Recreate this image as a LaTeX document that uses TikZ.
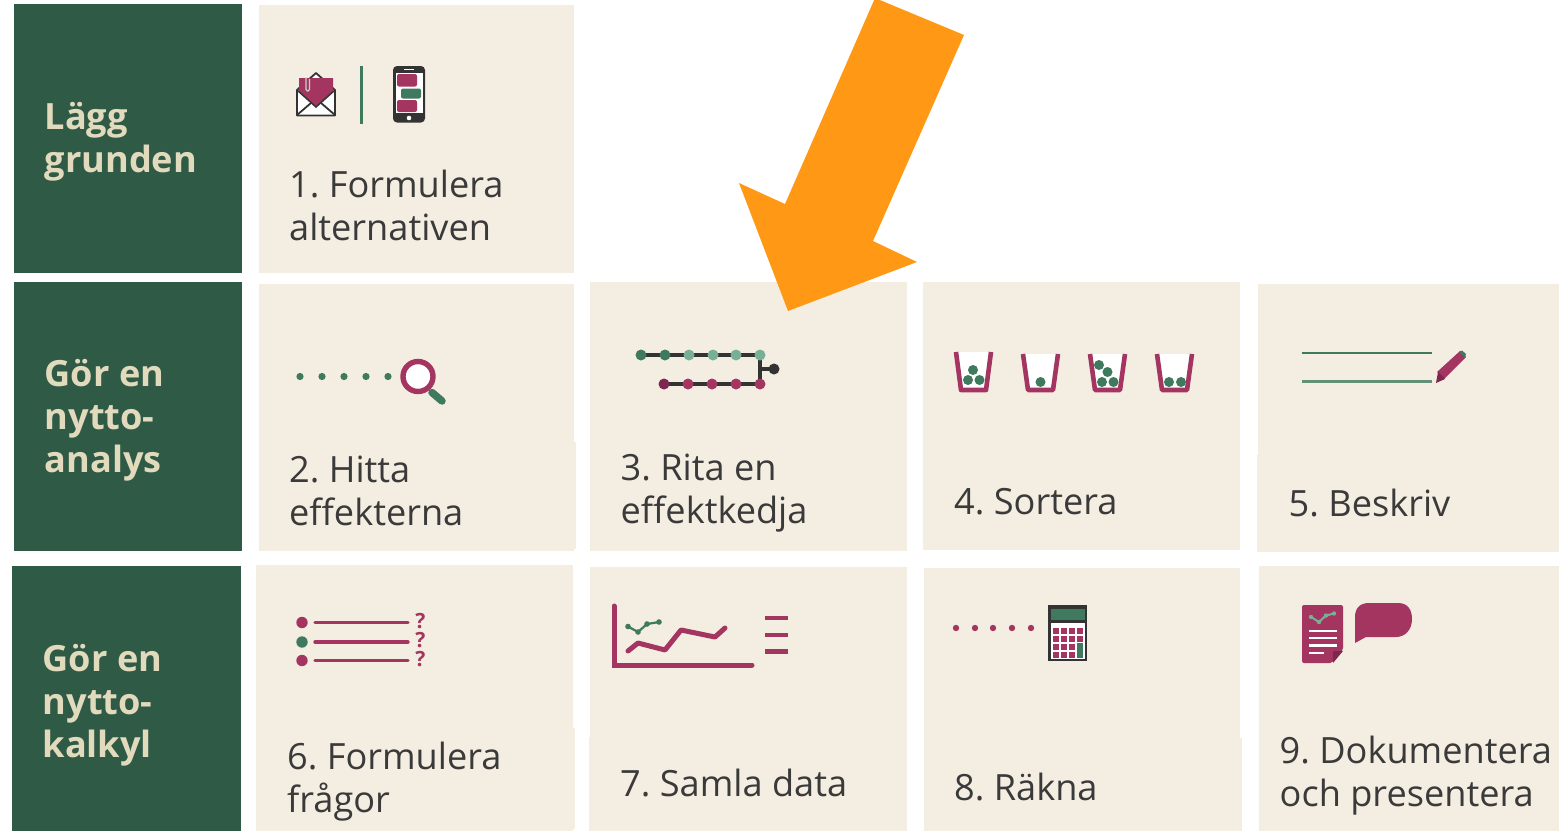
\documentclass[tikz,border=0pt]{standalone}
\usepackage{fontspec}
\setmainfont{Open Sans}
\frenchspacing
\definecolor{dkgreen}{HTML}{2F5A46}
\definecolor{cream}{HTML}{F4EEE2}
\definecolor{head}{HTML}{E2DABD}
\definecolor{txt}{HTML}{3A3A3A}
\definecolor{plum}{HTML}{A33560}
\definecolor{dplum}{HTML}{7C2650}
\definecolor{leaf}{HTML}{3F7A5E}
\definecolor{mint}{HTML}{78B096}
\definecolor{ink}{HTML}{333333}
\definecolor{orange}{HTML}{FF9815}
\tikzset{
 panel/.style={fill=cream,draw=none},
 band/.style={fill=dkgreen,draw=none},
 lab/.style={anchor=base west,inner sep=0pt,align=left,text=txt,font=\frenchspacing\fontsize{36.15}{43}\selectfont},
 headlab/.style={anchor=base west,inner sep=0pt,align=left,text=head,font=\fontsize{36.15}{43}\selectfont\bfseries},
 dot/.style={circle,fill=#1,draw=none,inner sep=0pt,minimum size=11pt},
 chainline/.style={draw=ink,line width=3.6pt},
 plumline/.style={draw=plum,line width=3.4pt,line cap=round},
 key/.style={fill=plum,draw=none},
 qmark/.style={anchor=center,inner sep=0pt,text=plum,font=\fontsize{21}{21}\selectfont\bfseries},
}
\begin{document}
\begin{tikzpicture}[x=1pt,y=-1pt]
\useasboundingbox (0,0) rectangle (1559,831);
% bands
\fill[band] (14,4) rectangle (242,273);
\fill[band] (14,282) rectangle (242,551);
\fill[band] (12,566) rectangle (241,831);
% panels
\fill[panel] (259,5) rectangle (574,273);
\fill[panel] (259,284) rectangle (574,551);
\fill[panel] (259,442) rectangle (576,549);
\fill[panel] (590,282) rectangle (907,551);
\fill[panel] (923,282) rectangle (1240,550);
\fill[panel] (1258,284) rectangle (1559,552);
\fill[panel] (1257,455) rectangle (1559,552);
\fill[panel] (256,565) rectangle (573,831);
\fill[panel] (256,728) rectangle (575,829);
\fill[panel] (590,567) rectangle (907,831);
\fill[panel] (589,737) rectangle (907,831);
\fill[panel] (924,568) rectangle (1240,831);
\fill[panel] (924,738) rectangle (1242,831);
\fill[panel] (1259,566) rectangle (1559,831);
% headings
\node[headlab] (h1) at (44.5,172) {Lägg\\grunden};
\node[headlab] (h2) at (44.5,472) {Gör en\\nytto-\\analys};
\node[headlab] (h3) at (42.5,757) {Gör en\\nytto-\\kalkyl};
% labels
\node[lab] (t1) at (289,240) {1. Formulera\\alternativen};
\node[lab] (t2) at (289,525) {2. Hitta\\effekterna};
\node[lab] (t3) at (620.5,523) {3. Rita en\\effektkedja};
\node[lab] (t4) at (954,514) {4. Sortera};
\node[lab] (t5) at (1288.5,516) {5. Beskriv};
\node[lab] (t6) at (287,812) {6. Formulera\\frågor};
\node[lab] (t7) at (620,796) {7. Samla data};
\node[lab] (t8) at (954,800) {8. Räkna};
\node[lab] (t9) at (1279.5,806) {9. Dokumentera\\och presentera};
% --- icon 1: envelope
\draw[draw=ink,line width=1.8pt,fill=white,line join=round] (297,90) -- (316,73) -- (335,90) -- (335,115.5) -- (297,115.5) -- cycle;
\fill[plum] (299,78) -- (333,78) -- (333,92) -- (316,107) -- (299,92) -- cycle;
\draw[draw=ink,line width=1.8pt,line cap=round] (297,115) -- (311,103);
\draw[draw=ink,line width=1.8pt,line cap=round] (335,115) -- (321,103);
\draw[draw=ink,line width=1.5pt] (297,90) -- (316,107) -- (335,90);
\draw[draw=mint!50!white,line width=1.1pt,rounded corners=1.5pt] (306,77) -- (306,91) -- (309.5,91) -- (309.5,79);
\draw[draw=leaf,line width=2.2pt] (361.5,66) -- (361.5,124);
% phone
\fill[ink,rounded corners=4pt] (393,66) rectangle (425,122.5);
\fill[white] (395.5,72.5) rectangle (422.5,113);
\fill[white] (404,68.5) rectangle (414,69.8);
\fill[white] (409,118) circle (2.3);
\fill[plum,rounded corners=2pt] (397,74) rectangle (417,86.5);
\fill[leaf,rounded corners=2pt] (401,88.5) rectangle (421,98.5);
\fill[plum,rounded corners=2pt] (397,100) rectangle (417,112);
% --- icon 2
\foreach \xx in {300,322,344,366,388}{\fill[leaf] (\xx,376.5) circle (3.6);}
\draw[draw=leaf,line width=7.5pt,line cap=round] (432,392.5) -- (442,401);
\draw[draw=plum,line width=5.4pt,fill=white] (418,376.5) circle (15);
% --- icon 3
\draw[chainline] (641,355) -- (760,355) -- (760,384) -- (664,384);
\draw[chainline] (760,369) -- (774,369);
\node[dot=leaf] (c1) at (641,355) {};
\node[dot=leaf] (c2) at (665,355) {};
\node[dot=mint] (c3) at (689,355) {};
\node[dot=mint] (c4) at (713,355) {};
\node[dot=mint] (c5) at (736,355) {};
\node[dot=mint] (c6) at (760,355) {};
\node[dot=ink] (c7) at (774,369) {};
\node[dot=dplum] (d1) at (664,384) {};
\node[dot=plum] (d2) at (688,384) {};
\node[dot=plum] (d3) at (712,384) {};
\node[dot=plum] (d4) at (736,384) {};
\node[dot=plum] (d5) at (760,384) {};
% --- icon 4
\newcommand{\mycup}[2]{\fill[white] (#1+1,#2) -- (#1+36,#2) -- (#1+31,390) -- (#1+6,390) -- cycle;
 \draw[draw=plum,line width=4.6pt,line join=round,line cap=butt] (#1+1,#2) -- (#1+6,390) -- (#1+31,390) -- (#1+36,#2);}
\mycup{955}{352}
\mycup{1022}{354}
\mycup{1089}{354}
\mycup{1156}{354}
\fill[leaf] (973,370) circle (5);
\fill[leaf] (968,380) circle (5);
\fill[leaf] (979.5,380) circle (5);
\fill[leaf] (1040.5,382) circle (5);
\fill[leaf] (1099,365) circle (5);
\fill[leaf] (1107.5,372) circle (5);
\fill[leaf] (1102,382) circle (5);
\fill[leaf] (1113.5,382) circle (5);
\fill[leaf] (1169,382) circle (5);
\fill[leaf] (1181,382) circle (5);
% --- icon 5
\draw[draw=leaf,line width=2.2pt] (1302,353) -- (1432,353);
\draw[draw=leaf!80!cream,line width=2.4pt] (1302,381.5) -- (1432,381.5);
\fill[plum] (1460,351) -- (1466,357) -- (1444,379) -- (1437,372) -- cycle;
\fill[leaf] (1459,352) -- (1462,350.5) -- (1466,354) -- (1465,357.5) -- cycle;
\fill[dplum] (1438,372) -- (1445,379) -- (1436,383) -- cycle;
% --- icon 6
\fill[plum] (302,622.5) circle (5.7);
\fill[leaf] (302,642) circle (5.7);
\fill[plum] (302,660.5) circle (5.7);
\draw[plumline] (315,622.5) -- (408,622.5);
\draw[plumline] (315,642) -- (408,642);
\draw[plumline] (315,660.5) -- (408,660.5);
\node[qmark] (q1) at (420.5,621.5) {?};
\node[qmark] (q2) at (420.5,640) {?};
\node[qmark] (q3) at (420.5,659) {?};
% --- icon 7
\draw[draw=plum,line width=5pt,line cap=round,line join=miter] (614,606) -- (614,665) -- (752,665);
\draw[draw=plum,line width=5pt,line cap=round,line join=round] (628,651) -- (638,643) -- (665,650) -- (681,630) -- (715,637) -- (725,628);
\draw[draw=leaf,line width=2.2pt] (628,626.5) -- (638,632) -- (647,624) -- (659,622);
\fill[leaf] (628,626.5) circle (2.8) (638,632) circle (2.8) (647,624) circle (2.8) (659,622) circle (2.8);
\draw[draw=plum,line width=4.2pt] (765,618) -- (788,618);
\draw[draw=plum,line width=4.2pt] (765,635) -- (788,635);
\draw[draw=plum,line width=4.2pt] (765,651.5) -- (788,651.5);
% --- icon 8
\foreach \xx in {956,975,993,1012,1031}{\fill[plum] (\xx,628) circle (3.2);}
\fill[ink] (1048,605) rectangle (1087,661);
\fill[leaf] (1050.5,609) rectangle (1084.5,620);
\fill[white] (1050.5,623) rectangle (1084.5,658.5);
\foreach \yy in {627.5,635.5,643.5,651.5}{\foreach \xx in {1052.5,1060.5,1068.5}{\fill[key] (\xx,\yy) rectangle +(6,6);}}
\foreach \yy in {627.5,635.5}{\fill[key] (1076.5,\yy) rectangle +(6,6);}
\fill[leaf] (1077,643) rectangle (1082.5,657.5);
% --- icon 9
\fill[plum,rounded corners=2pt] (1302,605) -- (1343,605) -- (1343,650) -- (1332,663) -- (1302,663) -- cycle;
\fill[dplum] (1343,651) -- (1333,663) -- (1333,651) -- cycle;
\draw[draw=white,line width=2.6pt] (1309,631) -- (1337,631);
\draw[draw=white,line width=2.6pt] (1309,638) -- (1337,638);
\draw[draw=white,line width=2.6pt] (1309,645.5) -- (1337,645.5);
\draw[draw=white,line width=2.6pt] (1309,653) -- (1323.5,653);
\draw[draw=mint,line width=2pt] (1311,617) -- (1319,622) -- (1326,615.5) -- (1334,613.5);
\fill[mint] (1311,617) circle (2.2) (1319,622) circle (2.2) (1326,615.5) circle (2.2) (1334,613.5) circle (2.2);
\fill[plum] (1355,643) -- (1355,617) .. controls (1355,608) and (1360,603) .. (1369,603) -- (1398,603) .. controls (1408,603) and (1412,610) .. (1412,619) .. controls (1412,630) and (1405,637) .. (1396,637) -- (1366,637) -- cycle;
% --- arrow
\fill[orange] (875,-2) -- (964,35) -- (873,241) -- (917,262) -- (788,311) -- (739,183) -- (785,204) -- (875,-2) -- cycle;
\end{tikzpicture}
\end{document}
